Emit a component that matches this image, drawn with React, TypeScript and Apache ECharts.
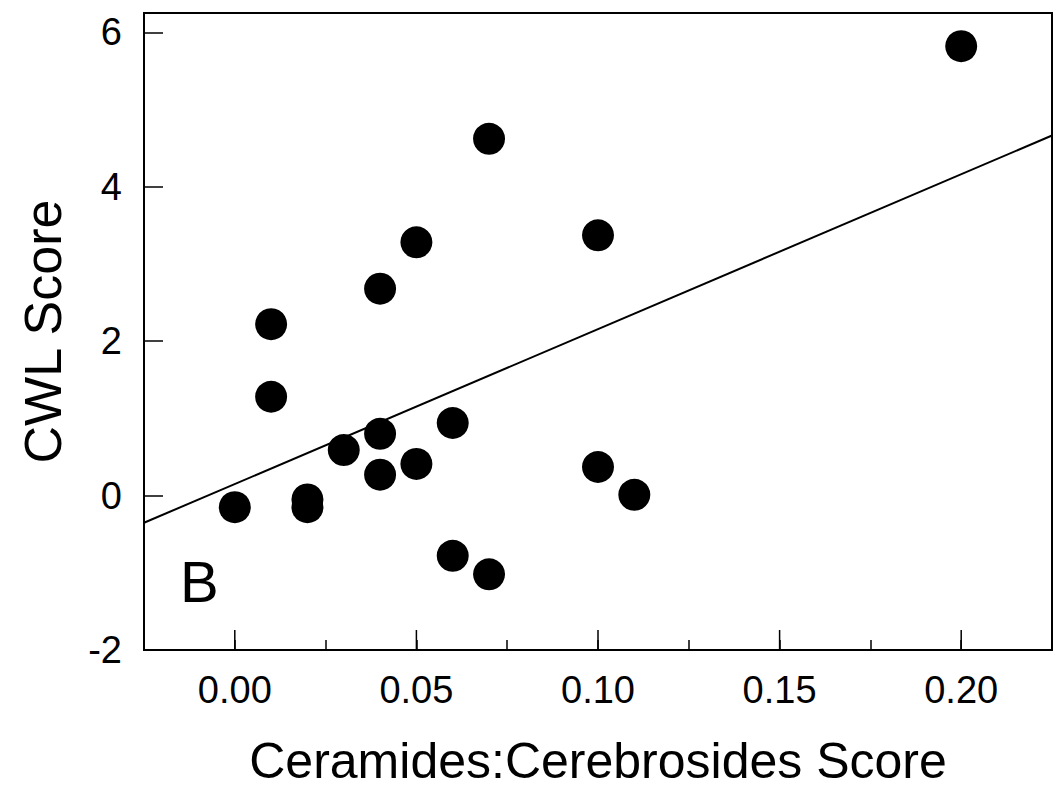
import React, { useEffect, useRef } from "react";
import * as echarts from "echarts";

// Ceramides:Cerebrosides score vs. CWL score, one entry per subject
const ceramideScore = [
  0.0, 0.01, 0.01, 0.02, 0.02, 0.03, 0.04, 0.04, 0.04, 0.05,
  0.05, 0.06, 0.06, 0.07, 0.07, 0.1, 0.1, 0.11, 0.2,
];
const cwlScore = [
  -0.15, 2.22, 1.28, -0.05, -0.15, 0.59, 0.8, 0.27, 2.68, 3.28,
  0.41, 0.94, -0.78, 4.62, -1.02, 3.37, 0.37, 0.01, 5.82,
];

// Axis layout values
const xRange = [-0.025, 0.225];
const yRange = [-2, 6.25];
const xMajorTicks = [0, 0.05, 0.1, 0.15, 0.2];

const FONT = "'Liberation Sans', Arial, Helvetica, sans-serif";

// Least-squares fit of CWL score on ceramide score
function linearFit(xs: number[], ys: number[]) {
  const n = xs.length;
  const mx = xs.reduce((a, b) => a + b, 0) / n;
  const my = ys.reduce((a, b) => a + b, 0) / n;
  let sxx = 0;
  let sxy = 0;
  for (let i = 0; i < n; i++) {
    sxx += (xs[i] - mx) * (xs[i] - mx);
    sxy += (xs[i] - mx) * (ys[i] - my);
  }
  const slope = sxy / sxx;
  return { slope, intercept: my - slope * mx };
}

export default function App() {
  const ref = useRef<HTMLDivElement>(null);

  useEffect(() => {
    if (!ref.current) return;
    const chart = echarts.init(ref.current, undefined, { renderer: "svg" });
    const fit = linearFit(ceramideScore, cwlScore);
    const fitLine = xRange.map((x) => [x, fit.intercept + fit.slope * x]);
    const points = ceramideScore.map((x, i) => [x, cwlScore[i]]);

    const isMajor = (v: number) =>
      Math.abs(v / 0.05 - Math.round(v / 0.05)) < 1e-6 &&
      v > xRange[0] + 1e-9 &&
      v < xRange[1] - 1e-9;

    chart.setOption({
      animation: false,
      backgroundColor: "#fff",
      grid: {
        left: 144,
        top: 13,
        right: 3,
        bottom: 146,
        show: true,
        borderColor: "#000",
        borderWidth: 2,
        containLabel: false,
      },
      xAxis: {
        type: "value",
        min: xRange[0],
        max: xRange[1],
        interval: 0.025,
        name: "Ceramides:Cerebrosides Score",
        nameLocation: "middle",
        nameGap: 86,
        nameTextStyle: { fontFamily: FONT, fontSize: 50, color: "#000" },
        axisLine: { show: true, onZero: false, lineStyle: { color: "#000", width: 2 } },
        axisTick: { show: true, inside: true, length: 10, lineStyle: { color: "#000", width: 1.5 } },
        axisLabel: {
          margin: 21,
          fontFamily: FONT,
          fontSize: 38,
          color: "#000",
          formatter: (v: number) => (isMajor(v) ? v.toFixed(2) : ""),
        },
        splitLine: { show: false },
      },
      yAxis: {
        type: "value",
        min: yRange[0],
        max: yRange[1],
        interval: 2,
        name: "CWL Score",
        nameLocation: "middle",
        nameGap: 75,
        nameTextStyle: { fontFamily: FONT, fontSize: 52, color: "#000" },
        axisLine: { show: true, onZero: false, lineStyle: { color: "#000", width: 2 } },
        axisTick: { show: true, inside: true, length: 19, lineStyle: { color: "#000", width: 1.5 } },
        axisLabel: {
          margin: 22,
          fontFamily: FONT,
          fontSize: 38,
          color: "#000",
          formatter: (v: number) => (Math.abs(v % 2) < 1e-9 ? String(v) : ""),
        },
        splitLine: { show: false },
      },
      series: [
        {
          // longer tick marks at the labelled x positions
          type: "custom",
          silent: true,
          clip: false,
          data: xMajorTicks.map((v) => [v, yRange[0]]),
          renderItem: (_params: any, api: any) => {
            const p = api.coord([api.value(0), api.value(1)]);
            return {
              type: "line",
              shape: { x1: p[0], y1: p[1], x2: p[0], y2: p[1] - 20 },
              style: { stroke: "#000", lineWidth: 1.5 },
            };
          },
          z: 1,
        },
        {
          type: "line",
          data: fitLine,
          symbol: "none",
          lineStyle: { color: "#000", width: 2 },
          silent: true,
          z: 2,
        },
        {
          type: "scatter",
          data: points,
          symbol: "circle",
          symbolSize: 32,
          itemStyle: { color: "#000", opacity: 1 },
          z: 3,
        },
      ],
      graphic: [
        {
          type: "text",
          left: 180,
          top: 552,
          style: {
            text: "B",
            fontFamily: FONT,
            fontSize: 58,
            fill: "#000",
          },
        },
      ],
    });

    return () => chart.dispose();
  }, []);

  return (
    <div
      ref={ref}
      style={{ position: "absolute", left: 0, top: 0, width: 1055, height: 796 }}
    />
  );
}
